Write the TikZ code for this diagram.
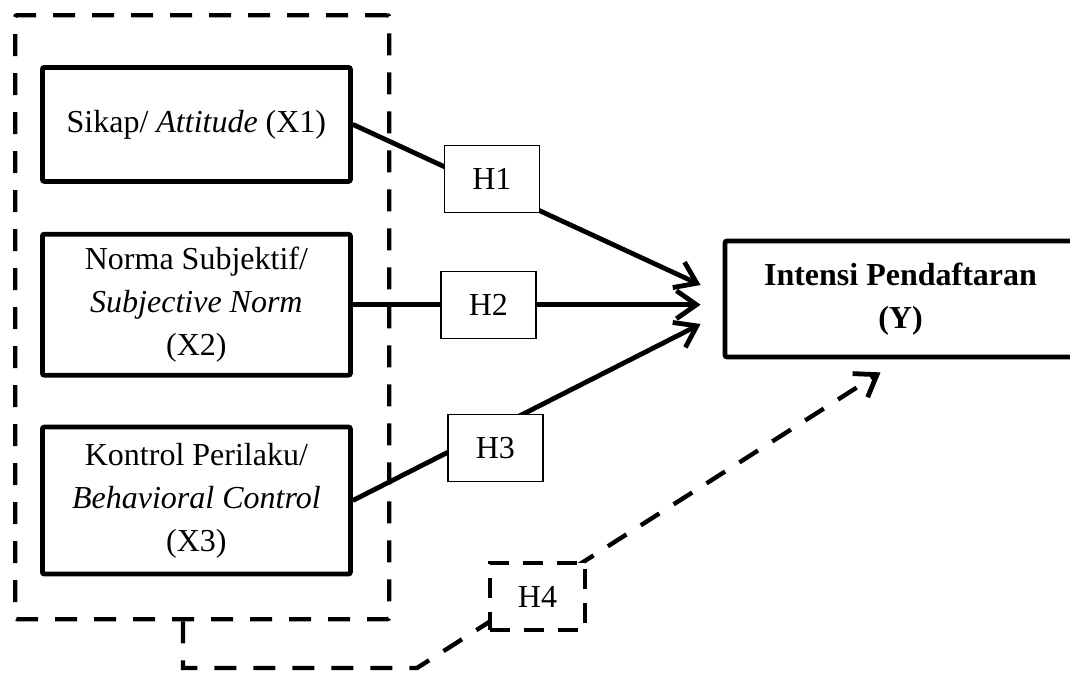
\documentclass[tikz,border=0pt]{standalone}
\usepackage{fontspec}
\setmainfont{Liberation Serif}
\usetikzlibrary{arrows.meta,positioning,calc}
\definecolor{ModelInk}{HTML}{000000}

\begin{document}
\begin{tikzpicture}[
x=0.5pt, y=-0.5pt,
node distance=24pt and 20pt,
every node/.style={font=\fontsize{16}{21.5}\selectfont, align=center},
varbox/.style={draw=ModelInk, line width=2.4pt, rounded corners=1pt, fill=white, minimum width=154pt, inner sep=2pt},
ybox/.style={draw=ModelInk, line width=2.4pt, rounded corners=1pt, fill=white, minimum width=175.5pt, minimum height=58pt},
hbox/.style={draw=ModelInk, line width=0.6pt, fill=white, minimum width=47.5pt, minimum height=33.5pt, inner sep=1pt},
hdash/.style={hbox, line width=2.2pt, dash pattern=on 10pt off 7pt},
groupbox/.style={draw=ModelInk, line width=2.2pt, rounded corners=1pt, dash pattern=on 11pt off 8.5pt, minimum width=187pt, minimum height=302pt, inner sep=0pt},
arrow/.style={-{Straight Barb[length=10pt,width=14pt,line width=2.4pt]}, line width=2.4pt, color=ModelInk},
dasharrow/.style={arrow, line width=2.2pt, dash pattern=on 11pt off 8.5pt}
]
\useasboundingbox (0,0) rectangle (1070,675);
\node[groupbox, anchor=north west] (grp) at (13,13) {};
\node[varbox, minimum height=57pt, anchor=north west] (x1) at (40,65) {Sikap/ \textit{Attitude} (X1)};
\node[varbox, minimum height=70.5pt, below=24pt of x1] (x2) {Norma Subjektif/\\\textit{Subjective Norm}\\(X2)};
\node[varbox, minimum height=73.5pt, below=23.5pt of x2] (x3) {Kontrol Perilaku/\\\textit{Behavioral Control}\\(X3)};
\node[ybox] (y) at (900.5,299) {\textbf{Intensi Pendaftaran}\\\textbf{(Y)}};
\coordinate (t1) at ([xshift=-11pt,yshift=7pt]y.west);
\coordinate (t2) at ([xshift=-11pt]y.west |- x2.east);
\coordinate (t3) at ([xshift=-11pt,yshift=-12.5pt]y.west);
\coordinate (t4) at ([xshift=-10pt,yshift=-6.5pt]y.south);
\coordinate (c1) at (183,668);
\coordinate (c2) at (417,668);
\draw[arrow] (x1.east) -- node[hbox, pos=0.4, yshift=5pt] (h1) {H1} (t1);
\draw[arrow] (x2.east) -- node[hbox, pos=0.39] (h2) {H2} (t2);
\draw[arrow] (x3.east) -- node[hbox, pos=0.41, yshift=-10pt] (h3) {H3} (t3);
\draw[dasharrow] (grp.south west -| c1) -- (c1) -- (c2) -- node[hdash, pos=0.26, yshift=-2.75pt] (h4) {H4} (t4);
\end{tikzpicture}
\end{document}
